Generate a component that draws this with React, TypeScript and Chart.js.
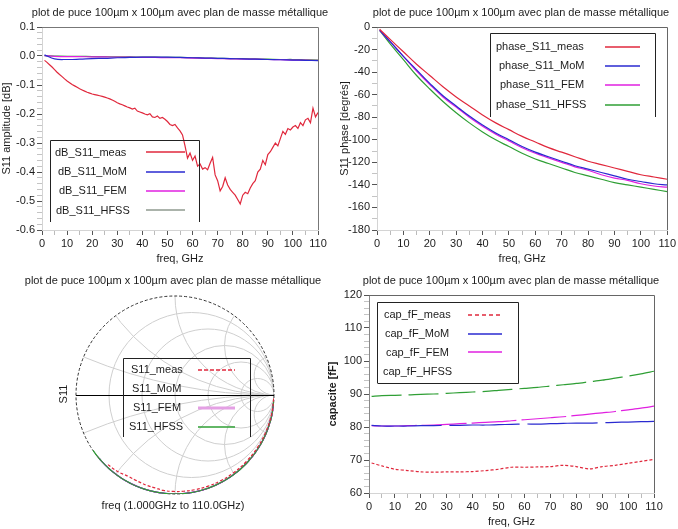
import React, { useEffect, useRef } from "react";
import { Chart, registerables } from "chart.js";
Chart.register(...registerables);

const FONT = '"Liberation Sans", Arial, Helvetica, sans-serif';
const PLOT_TITLE = "plot de puce 100µm x 100µm avec plan de masse métallique";
const TEXT = "#1c1c1c";

const C_MEAS = "#e0283c";
const C_MOM = "#2a2ad0";
const C_FEM = "#e020e0";
const C_HFSS = "#2f9f35";

// ---------- data ----------
const measFreq = [
  1, 2, 3, 4, 5, 6, 7, 8, 9, 10, 11, 12, 13, 14, 15, 16, 17, 18, 19, 20,
  21, 22, 23, 24, 25, 26, 27, 28, 29, 30, 31, 32, 33, 34, 35, 36, 37, 38, 39, 40,
  41, 42, 43, 44, 45, 46, 47, 48, 49, 50, 51, 52, 53, 54, 55, 56, 57, 58, 59, 60,
  61, 62, 63, 64, 65, 66, 67, 68, 69, 70, 71, 72, 73, 74, 75, 76, 77, 78, 79, 80,
  81, 82, 83, 84, 85, 86, 87, 88, 89, 90, 91, 92, 93, 94, 95, 96, 97, 98, 99, 100,
  101, 102, 103, 104, 105, 106, 107, 108, 109, 110,
];
const measDb = [
  -0.015, -0.022, -0.03, -0.038, -0.047, -0.056, -0.064, -0.071, -0.079, -0.086,
  -0.092, -0.098, -0.103, -0.108, -0.113, -0.117, -0.121, -0.125, -0.128, -0.131,
  -0.133, -0.135, -0.137, -0.139, -0.142, -0.145, -0.148, -0.152, -0.156, -0.161,
  -0.165, -0.168, -0.172, -0.176, -0.179, -0.183, -0.18, -0.19, -0.193, -0.196,
  -0.2, -0.203, -0.199, -0.21, -0.212, -0.207, -0.215, -0.212, -0.218, -0.226,
  -0.236, -0.24, -0.236, -0.248, -0.258, -0.272, -0.31, -0.352, -0.335, -0.36,
  -0.345, -0.38, -0.372, -0.39, -0.385, -0.392, -0.37, -0.35, -0.41, -0.43,
  -0.465, -0.45, -0.42, -0.445, -0.46, -0.47, -0.48, -0.495, -0.51, -0.48,
  -0.47, -0.475, -0.455, -0.44, -0.43, -0.4, -0.39, -0.36, -0.375, -0.34,
  -0.33, -0.315, -0.3, -0.31, -0.285, -0.26, -0.27, -0.25, -0.255, -0.245,
  -0.24, -0.25, -0.23, -0.24, -0.22, -0.215, -0.23, -0.18, -0.21, -0.195,
];

const simFreq = [1, 5, 10, 15, 20, 25, 30, 35, 40, 45, 50, 55, 60, 65, 70, 75, 80, 85, 90, 95, 100, 105, 110];
const momDb = [0.004, -0.01, -0.012, -0.011, -0.009, -0.008, -0.006, -0.005, -0.004, -0.004, -0.004, -0.005, -0.006, -0.007, -0.008, -0.009, -0.01, -0.011, -0.012, -0.013, -0.014, -0.015, -0.016];
const femDb = [0.001, -0.001, -0.002, -0.002, -0.003, -0.003, -0.004, -0.004, -0.005, -0.005, -0.006, -0.006, -0.007, -0.008, -0.009, -0.01, -0.011, -0.011, -0.012, -0.013, -0.014, -0.014, -0.015];
const hfssDb = [0.001, 0.0, -0.001, -0.001, -0.002, -0.002, -0.003, -0.003, -0.004, -0.004, -0.005, -0.005, -0.006, -0.007, -0.008, -0.009, -0.009, -0.01, -0.011, -0.012, -0.012, -0.013, -0.014];

const measPhase = [-2, -11, -22, -33, -43, -53, -62, -70, -78, -85, -91, -97, -102, -107, -111, -115, -119, -122, -125, -128, -131, -133, -135];
const momPhase = [-3, -13, -26, -38, -50, -61, -70, -79, -87, -94, -100, -106, -111, -115, -119, -123, -126, -129, -132, -135, -137, -139, -140];
const femPhase = [-3, -13, -26, -39, -51, -62, -71, -80, -88, -95, -101, -107, -112, -116, -120, -124, -127, -131, -134, -136, -139, -141, -142];
const hfssPhase = [-3, -15, -29, -43, -55, -66, -76, -85, -93, -100, -106, -112, -117, -121, -125, -129, -132, -135, -138, -140, -142, -144, -146];

const measCap = [69.1, 68.2, 67.2, 66.8, 66.4, 66.3, 66.4, 66.4, 66.5, 66.8, 67.2, 67.8, 67.8, 67.9, 68.0, 68.4, 68.0, 67.3, 68.0, 68.4, 69.0, 69.6, 70.2];
const momCap = [80.5, 80.3, 80.3, 80.3, 80.4, 80.4, 80.5, 80.5, 80.6, 80.6, 80.7, 80.8, 80.9, 80.9, 81.0, 81.1, 81.2, 81.2, 81.3, 81.4, 81.5, 81.6, 81.7];
const femCap = [80.4, 80.3, 80.3, 80.4, 80.5, 80.6, 80.8, 81.0, 81.2, 81.4, 81.6, 81.9, 82.2, 82.5, 82.8, 83.1, 83.5, 83.9, 84.3, 84.7, 85.2, 85.7, 86.3];
const hfssCap = [89.3, 89.5, 89.6, 89.7, 89.9, 90.0, 90.2, 90.4, 90.6, 90.8, 91.1, 91.4, 91.7, 92.0, 92.4, 92.8, 93.2, 93.7, 94.2, 94.8, 95.4, 96.1, 96.9];

const smithResistances = [0.2, 0.5, 1, 2, 5];
const smithReactances = [0.2, 0.5, 1, 2, 5];

// ---------- helpers ----------
type Pt = { x: number; y: number };
const toPts = (xs: number[], ys: number[]): Pt[] => xs.map((x, i) => ({ x, y: ys[i] }));
const polarPts = (dbs: number[], phs: number[]): Pt[] =>
  dbs.map((d, i) => {
    const m = Math.pow(10, d / 20);
    const a = (phs[i] * Math.PI) / 180;
    return { x: m * Math.cos(a), y: m * Math.sin(a) };
  });
const measDbAtSim = simFreq.map((f) => measDb[measFreq.indexOf(f)]);

const font = (size: number, weight: string = "normal") => ({ family: FONT, size, weight, lineHeight: 1.2 });

function line(data: Pt[], color: string, extra: any = {}) {
  return { data, borderColor: color, backgroundColor: color, borderWidth: 1.2, pointRadius: 0, fill: false, ...extra };
}

function isMult(v: number, m: number) {
  const q = v / m;
  return Math.abs(q - Math.round(q)) < 1e-6;
}

function xScale(height: number) {
  return {
    type: "linear",
    min: 0,
    max: 110,
    ticks: {
      stepSize: 5,
      autoSkip: false,
      maxRotation: 0,
      padding: 2,
      color: TEXT,
      font: font(11),
      callback: (v: number) => (isMult(v, 10) ? String(Math.round(v)) : ""),
    },
    grid: {
      display: true,
      drawOnChartArea: false,
      drawTicks: true,
      tickLength: 5,
      tickColor: (c: any) => (c.tick && isMult(c.tick.value, 10) ? "#555" : "#bbb"),
    },
    border: { display: true, color: "#d4d4d4" },
    title: { display: true, text: "freq, GHz", color: TEXT, font: font(11), padding: { top: 0, bottom: 0 } },
    afterFit: (s: any) => {
      s.height = height;
    },
  };
}

function yScale(opts: {
  min: number; max: number; step: number; major: number; digits: number; width: number;
  title: string; titleWeight?: string; titlePad: number; borderColor?: string;
}) {
  return {
    type: "linear",
    min: opts.min,
    max: opts.max,
    ticks: {
      stepSize: opts.step,
      autoSkip: false,
      padding: 2,
      color: TEXT,
      font: font(11),
      callback: (v: number) => (isMult(v, opts.major) ? (Math.round(v / opts.major) * opts.major).toFixed(opts.digits) : ""),
    },
    grid: {
      display: true,
      drawOnChartArea: false,
      drawTicks: true,
      tickLength: 5,
      tickColor: (c: any) => (c.tick && isMult(c.tick.value, opts.major) ? "#555" : "#c4c4c4"),
    },
    border: { display: true, color: opts.borderColor || "#d4d4d4" },
    title: {
      display: true,
      text: opts.title,
      color: TEXT,
      font: font(11, opts.titleWeight || "normal"),
      padding: { top: opts.titlePad, bottom: 0 },
    },
    afterFit: (s: any) => {
      s.width = opts.width;
    },
  };
}

type LegendItem = { text: string; tx: number; ty: number; line?: { x1: number; x2: number; y: number; color: string; dash?: number[]; width?: number } };
type OverlaySpec = {
  ox: number;
  oy: number;
  frame?: string;
  title: { x: number; y: number };
  box: { l: number; t: number; r: number; b: number; closed: boolean };
  items: LegendItem[];
  texts?: { text: string; x: number; y: number; rot?: number; weight?: string }[];
};

function overlay(spec: OverlaySpec) {
  return {
    id: "overlay",
    afterDraw(chart: any) {
      const ctx: CanvasRenderingContext2D = chart.ctx;
      const ca = chart.chartArea;
      const X = (v: number) => v - spec.ox;
      const Y = (v: number) => v - spec.oy;
      ctx.save();
      if (spec.frame) {
        ctx.strokeStyle = spec.frame;
        ctx.lineWidth = 1;
        ctx.beginPath();
        ctx.moveTo(ca.left, Math.round(ca.top) + 0.5);
        ctx.lineTo(Math.round(ca.right) + 0.5, Math.round(ca.top) + 0.5);
        ctx.lineTo(Math.round(ca.right) + 0.5, ca.bottom);
        ctx.stroke();
      }
      ctx.fillStyle = TEXT;
      ctx.font = `normal 11px ${FONT}`;
      ctx.textAlign = "center";
      ctx.textBaseline = "middle";
      ctx.fillText(PLOT_TITLE, X(spec.title.x), Y(spec.title.y));

      // legend box
      const b = spec.box;
      ctx.strokeStyle = "#222";
      ctx.lineWidth = 1;
      ctx.beginPath();
      ctx.moveTo(X(b.l) + 0.5, Y(b.b));
      ctx.lineTo(X(b.l) + 0.5, Y(b.t) + 0.5);
      ctx.lineTo(X(b.r) + 0.5, Y(b.t) + 0.5);
      ctx.lineTo(X(b.r) + 0.5, Y(b.b) + (b.closed ? 0.5 : 0));
      if (b.closed) ctx.lineTo(X(b.l) + 0.5, Y(b.b) + 0.5);
      ctx.stroke();

      ctx.textAlign = "left";
      for (const it of spec.items) {
        ctx.fillStyle = TEXT;
        ctx.font = `normal 11px ${FONT}`;
        ctx.fillText(it.text, X(it.tx), Y(it.ty));
        if (it.line) {
          ctx.strokeStyle = it.line.color;
          ctx.lineWidth = it.line.width || 1.4;
          ctx.setLineDash(it.line.dash || []);
          ctx.beginPath();
          ctx.moveTo(X(it.line.x1), Y(it.line.y));
          ctx.lineTo(X(it.line.x2), Y(it.line.y));
          ctx.stroke();
          ctx.setLineDash([]);
        }
      }
      for (const t of spec.texts || []) {
        ctx.save();
        ctx.fillStyle = TEXT;
        ctx.font = `${t.weight || "normal"} 11px ${FONT}`;
        ctx.textAlign = "center";
        ctx.translate(X(t.x), Y(t.y));
        if (t.rot) ctx.rotate(t.rot);
        ctx.fillText(t.text, 0, 0);
        ctx.restore();
      }
      ctx.restore();
    },
  };
}

const baseOptions = (padding: any) => ({
  responsive: false,
  animation: false,
  events: [],
  layout: { padding },
  plugins: { legend: { display: false }, tooltip: { enabled: false }, title: { display: false } },
});

// ---------- chart configs ----------
const cfgDb = () => ({
  type: "line",
  data: {
    datasets: [
      line(toPts(measFreq, measDb), C_MEAS, { tension: 0 }),
      line(toPts(simFreq, momDb), C_MOM, { tension: 0.4 }),
      line(toPts(simFreq, femDb), C_FEM, { tension: 0.4 }),
      line(toPts(simFreq, hfssDb), C_HFSS, { tension: 0.4 }),
    ],
  },
  options: {
    ...baseOptions({ left: 0, top: 27, right: 20, bottom: 0 }),
    scales: {
      x: xScale(36),
      y: yScale({ min: -0.6, max: 0.1, step: 0.02, major: 0.1, digits: 1, width: 42, title: "S11 amplitude [dB]", titlePad: 0 }),
    },
  },
  plugins: [
    overlay({
      ox: 0, oy: 0, frame: "#777",
      title: { x: 180, y: 13 },
      box: { l: 50, t: 140, r: 199, b: 222, closed: false },
      items: [
        { text: "dB_S11_meas", tx: 55, ty: 153, line: { x1: 146, x2: 185, y: 152, color: C_MEAS } },
        { text: "dB_S11_MoM", tx: 58, ty: 172, line: { x1: 146, x2: 185, y: 172, color: C_MOM } },
        { text: "dB_S11_FEM", tx: 59, ty: 191, line: { x1: 146, x2: 185, y: 191, color: C_FEM } },
        { text: "dB_S11_HFSS", tx: 56, ty: 211, line: { x1: 146, x2: 185, y: 210, color: "#8f9a8f" } },
      ],
    }),
  ],
});

const cfgPhase = () => ({
  type: "line",
  data: {
    datasets: [
      line(toPts(simFreq, measPhase), C_MEAS, { tension: 0.4 }),
      line(toPts(simFreq, momPhase), C_MOM, { tension: 0.4 }),
      line(toPts(simFreq, femPhase), C_FEM, { tension: 0.4 }),
      line(toPts(simFreq, hfssPhase), C_HFSS, { tension: 0.4 }),
    ],
  },
  options: {
    ...baseOptions({ left: 0, top: 27, right: 9, bottom: 0 }),
    scales: {
      x: xScale(36),
      y: yScale({ min: -180, max: 0, step: 10, major: 20, digits: 0, width: 39, title: "S11 phase [degrés]", titlePad: 0 }),
    },
  },
  plugins: [
    overlay({
      ox: 338, oy: 0, frame: "#666",
      title: { x: 521, y: 13 },
      box: { l: 490, t: 33, r: 655, b: 117, closed: false },
      items: [
        { text: "phase_S11_meas", tx: 496, ty: 47, line: { x1: 605, x2: 640, y: 47, color: C_MEAS } },
        { text: "phase_S11_MoM", tx: 499, ty: 66, line: { x1: 605, x2: 640, y: 66, color: C_MOM } },
        { text: "phase_S11_FEM", tx: 500, ty: 85, line: { x1: 605, x2: 640, y: 85, color: C_FEM } },
        { text: "phase_S11_HFSS", tx: 496, ty: 105, line: { x1: 605, x2: 640, y: 105, color: C_HFSS } },
      ],
    }),
  ],
});

const smithGrid = {
  id: "smithGrid",
  beforeDatasetsDraw(chart: any) {
    const ctx: CanvasRenderingContext2D = chart.ctx;
    const xs = chart.scales.x;
    const ys = chart.scales.y;
    const px = (v: number) => xs.getPixelForValue(v);
    const py = (v: number) => ys.getPixelForValue(v);
    const cx = px(0);
    const cy = py(0);
    const R = px(1) - px(0);
    ctx.save();
    ctx.beginPath();
    ctx.arc(cx, cy, R, 0, Math.PI * 2);
    ctx.clip();
    ctx.strokeStyle = "#cfcfcf";
    ctx.lineWidth = 1;
    for (const r of smithResistances) {
      ctx.beginPath();
      ctx.arc(px(r / (1 + r)), cy, R / (1 + r), 0, Math.PI * 2);
      ctx.stroke();
    }
    for (const x of smithReactances) {
      for (const s of [1, -1]) {
        ctx.beginPath();
        ctx.arc(px(1), py(s / x), R / x, 0, Math.PI * 2);
        ctx.stroke();
      }
    }
    ctx.restore();
    ctx.save();
    ctx.strokeStyle = "#333";
    ctx.setLineDash([3, 2]);
    ctx.beginPath();
    ctx.arc(cx, cy, R, 0, Math.PI * 2);
    ctx.stroke();
    ctx.setLineDash([]);
    ctx.strokeStyle = "#000";
    ctx.beginPath();
    ctx.moveTo(cx - R, Math.round(cy) + 0.5);
    ctx.lineTo(cx + R, Math.round(cy) + 0.5);
    ctx.stroke();
    ctx.restore();
  },
};

const cfgSmith = () => ({
  type: "scatter",
  data: {
    datasets: [
      line(polarPts(measDbAtSim, measPhase), C_MEAS, { showLine: true, tension: 0.4, borderDash: [3, 2] }),
      line(polarPts(hfssDb, hfssPhase), C_HFSS, { showLine: true, tension: 0.4 }),
      line(polarPts(femDb, femPhase), C_FEM, { showLine: true, tension: 0.4 }),
      line(polarPts(momDb, momPhase), C_MOM, { showLine: true, tension: 0.4 }),
    ],
  },
  options: {
    ...baseOptions({ left: 76, top: 30, right: 64, bottom: 35 }),
    scales: {
      x: { type: "linear", min: -1, max: 1, display: false },
      y: { type: "linear", min: -1, max: 1, display: false },
    },
  },
  plugins: [
    smithGrid,
    overlay({
      ox: 0, oy: 266,
      title: { x: 173, y: 281 },
      box: { l: 123, t: 358, r: 250, b: 437, closed: false },
      items: [
        { text: "S11_meas", tx: 131, ty: 370, line: { x1: 198, x2: 235, y: 370, color: C_MEAS, dash: [4, 2] } },
        { text: "S11_MoM", tx: 132, ty: 389 },
        { text: "S11_FEM", tx: 133, ty: 408, line: { x1: 198, x2: 235, y: 408, color: "#e4a0e4", width: 3 } },
        { text: "S11_HFSS", tx: 129, ty: 427, line: { x1: 198, x2: 235, y: 427, color: C_HFSS } },
      ],
      texts: [
        { text: "S11", x: 64, y: 394, rot: -Math.PI / 2 },
        { text: "freq (1.000GHz to 110.0GHz)", x: 173, y: 506 },
      ],
    }),
  ],
});

const cfgCap = () => ({
  type: "line",
  data: {
    datasets: [
      line(toPts(simFreq, measCap), C_MEAS, { tension: 0.3, borderDash: [3, 2] }),
      line(toPts(simFreq, momCap), C_MOM, { tension: 0.3, borderDash: [70, 8] }),
      line(toPts(simFreq, femCap), C_FEM, { tension: 0.3, borderDash: [45, 5] }),
      line(toPts(simFreq, hfssCap), C_HFSS, { tension: 0.3, borderDash: [30, 7] }),
    ],
  },
  options: {
    ...baseOptions({ left: 0, top: 29, right: 24, bottom: 0 }),
    scales: {
      x: xScale(36),
      y: yScale({ min: 60, max: 120, step: 2, major: 10, digits: 0, width: 47, title: "capacite [fF]", titleWeight: "bold", titlePad: 4, borderColor: "#888" }),
    },
  },
  plugins: [
    overlay({
      ox: 322, oy: 266, frame: "#666",
      title: { x: 511, y: 281 },
      box: { l: 377, t: 302, r: 518, b: 383, closed: true },
      items: [
        { text: "cap_fF_meas", tx: 384, ty: 315, line: { x1: 468, x2: 502, y: 315, color: C_MEAS, dash: [4, 3] } },
        { text: "cap_fF_MoM", tx: 385, ty: 334, line: { x1: 468, x2: 502, y: 334, color: C_MOM } },
        { text: "cap_fF_FEM", tx: 386, ty: 353, line: { x1: 468, x2: 502, y: 352, color: C_FEM } },
        { text: "cap_fF_HFSS", tx: 383, ty: 372 },
      ],
    }),
  ],
});

// ---------- components ----------
function ChartBox(props: { left: number; top: number; width: number; height: number; make: () => any }) {
  const ref = useRef<HTMLCanvasElement>(null);
  useEffect(() => {
    const chart = new Chart(ref.current as HTMLCanvasElement, props.make());
    return () => chart.destroy();
  }, []);
  return (
    <div style={{ position: "absolute", left: props.left, top: props.top, width: props.width, height: props.height }}>
      <canvas
        ref={ref}
        width={props.width}
        height={props.height}
        style={{ display: "block", width: props.width, height: props.height }}
      />
    </div>
  );
}

export default function App() {
  return (
    <div style={{ position: "absolute", left: 0, top: 0, width: 678, height: 529, background: "#fff", overflow: "hidden" }}>
      <ChartBox left={0} top={0} width={338} height={266} make={cfgDb} />
      <ChartBox left={338} top={0} width={340} height={266} make={cfgPhase} />
      <ChartBox left={0} top={266} width={338} height={263} make={cfgSmith} />
      <ChartBox left={322} top={266} width={356} height={263} make={cfgCap} />
    </div>
  );
}
